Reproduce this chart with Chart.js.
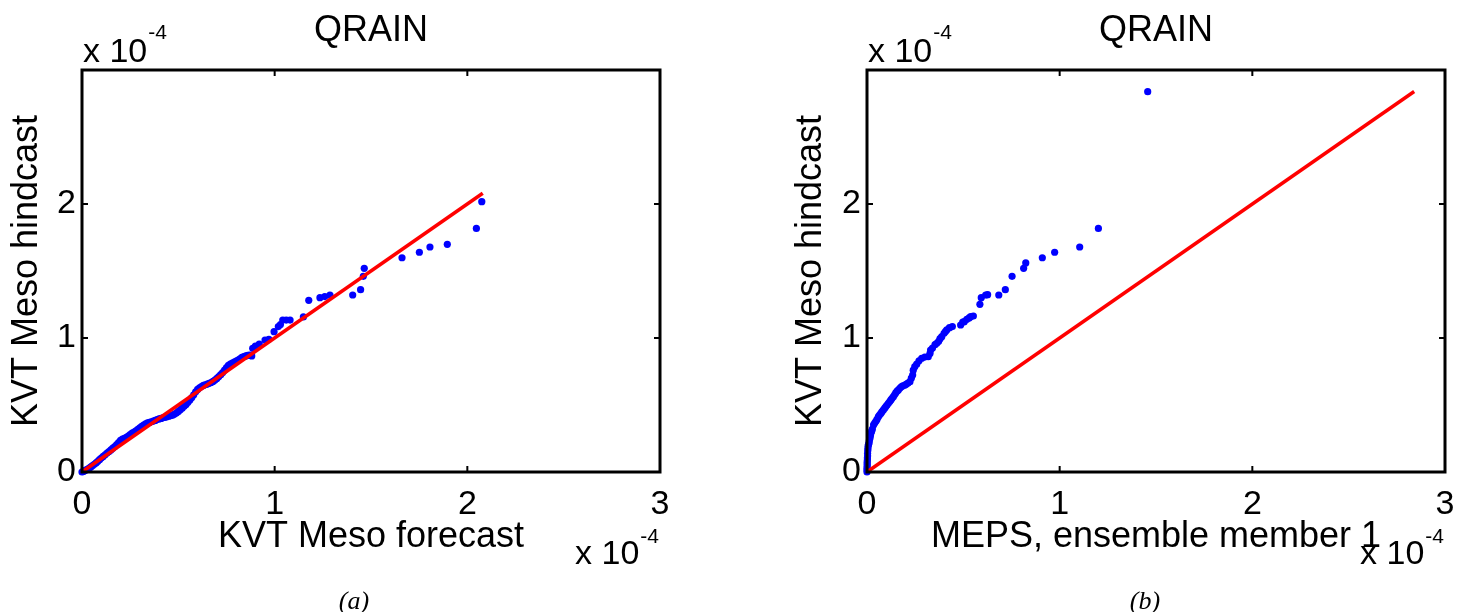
<!DOCTYPE html>
<html>
<head>
<meta charset="utf-8">
<title>QRAIN</title>
<script src="https://cdn.jsdelivr.net/npm/chart.js"></script>
<style>
  body { margin: 0; background: #fff; }
  #page { position: relative; width: 1469px; height: 612px; overflow: hidden; }
  canvas { position: absolute; top: 0; }
  .cap { position: absolute; top: 586px; line-height: 1; font: italic 26px "Liberation Serif", "Times New Roman", serif; transform: translateX(-50%); }
</style>
</head>
<body>
<div id="page">
  <canvas id="chartA" width="734" height="612" style="left:0px"></canvas>
  <canvas id="chartB" width="735" height="612" style="left:734px"></canvas>
  <div class="cap" style="left:354px">(a)</div>
  <div class="cap" style="left:1145px">(b)</div>
</div>
<script>
// quantiles, all in units of 1e-4
var tickVals = [0, 1, 2, 3];

var forecastA = [0.000, 0.005, 0.010, 0.016, 0.022, 0.030, 0.038, 0.046, 0.055, 0.064,
  0.073, 0.082, 0.091, 0.100,
  0.11, 0.12, 0.13, 0.14, 0.15, 0.16, 0.17, 0.18, 0.19, 0.20,
  0.21, 0.22, 0.23, 0.24, 0.25, 0.26, 0.27, 0.28, 0.29, 0.30,
  0.31, 0.32, 0.33, 0.34, 0.35, 0.36, 0.37, 0.38, 0.39, 0.40,
  0.41, 0.42, 0.43, 0.44, 0.45, 0.46, 0.47, 0.48, 0.49, 0.50,
  0.51, 0.52, 0.53, 0.54, 0.55, 0.56, 0.57, 0.58, 0.59, 0.60,
  0.61, 0.62, 0.63, 0.64, 0.65, 0.66, 0.67, 0.68, 0.69, 0.70,
  0.71, 0.72, 0.73, 0.74, 0.75, 0.76, 0.77, 0.78, 0.79, 0.80,
  0.81, 0.82, 0.83, 0.84, 0.85, 0.86, 0.87,
  0.881, 0.886, 0.900, 0.920, 0.950, 0.970, 0.997, 1.019, 1.030, 1.042,
  1.060, 1.080, 1.149, 1.177, 1.235, 1.260, 1.287, 1.405, 1.446, 1.460,
  1.465, 1.661, 1.751, 1.806, 1.896, 2.047, 2.075];
var hindcastA = [0.000, 0.003, 0.007, 0.011, 0.016, 0.022, 0.030, 0.038, 0.048, 0.058,
  0.068, 0.080, 0.092, 0.104,
  0.116, 0.128, 0.141, 0.153, 0.165, 0.178, 0.190, 0.205, 0.220, 0.236,
  0.246, 0.251, 0.258, 0.268, 0.279, 0.290, 0.298, 0.308, 0.318, 0.330,
  0.340, 0.350, 0.360, 0.366, 0.370, 0.375, 0.380, 0.385, 0.391, 0.396,
  0.400, 0.404, 0.408, 0.412, 0.416, 0.420, 0.424, 0.432, 0.440, 0.452,
  0.464, 0.476, 0.490, 0.504, 0.520, 0.538, 0.556, 0.576, 0.598, 0.616,
  0.628, 0.638, 0.646, 0.651, 0.656, 0.662, 0.668, 0.676, 0.686, 0.698,
  0.712, 0.726, 0.742, 0.760, 0.780, 0.796, 0.806, 0.813, 0.820, 0.828,
  0.836, 0.845, 0.855, 0.862, 0.866, 0.870, 0.872,
  0.866, 0.923, 0.940, 0.955, 0.985, 0.990, 1.047, 1.085, 1.100, 1.134,
  1.134, 1.134, 1.157, 1.281, 1.301, 1.309, 1.321, 1.321, 1.361, 1.460,
  1.520, 1.599, 1.640, 1.679, 1.699, 1.818, 2.017];
var refLineA = [0, 2.08];

var memberB = [0.000, 0.000, 0.000, 0.001, 0.001, 0.001, 0.002, 0.002, 0.003, 0.003,
  0.004, 0.005, 0.006, 0.008, 0.010, 0.012, 0.015, 0.018, 0.020, 0.024,
  0.028, 0.034, 0.040, 0.046, 0.052, 0.059, 0.065, 0.072, 0.078, 0.085,
  0.092, 0.098, 0.104, 0.111, 0.118, 0.124, 0.130, 0.137, 0.144, 0.150,
  0.157, 0.163, 0.170, 0.178, 0.186, 0.197, 0.205, 0.213, 0.223, 0.230,
  0.237, 0.240, 0.248, 0.258, 0.270, 0.284, 0.300, 0.318, 0.327, 0.330,
  0.340, 0.353, 0.362, 0.372, 0.379, 0.388, 0.400, 0.407, 0.414, 0.428,
  0.443, 0.486, 0.497, 0.505, 0.518, 0.530, 0.538, 0.552, 0.586, 0.593,
  0.616, 0.626, 0.684, 0.718, 0.753, 0.813, 0.824, 0.910, 0.974, 1.104,
  1.201, 1.457];
var hindcastB = [0.000, 0.015, 0.030, 0.045, 0.060, 0.075, 0.090, 0.105, 0.120, 0.140,
  0.160, 0.178, 0.195, 0.205, 0.214, 0.232, 0.250, 0.270, 0.289, 0.305,
  0.320, 0.351, 0.365, 0.378, 0.392, 0.413, 0.425, 0.437, 0.450, 0.463,
  0.476, 0.488, 0.500, 0.513, 0.526, 0.538, 0.550, 0.562, 0.578, 0.592,
  0.605, 0.612, 0.625, 0.636, 0.643, 0.649, 0.656, 0.664, 0.674, 0.700,
  0.724, 0.760, 0.786, 0.805, 0.830, 0.849, 0.858, 0.861, 0.885, 0.910,
  0.925, 0.950, 0.960, 0.975, 0.995, 1.010, 1.035, 1.048, 1.060, 1.077,
  1.085, 1.097, 1.119, 1.122, 1.139, 1.150, 1.159, 1.164, 1.251, 1.301,
  1.321, 1.323, 1.321, 1.361, 1.460, 1.520, 1.560, 1.599, 1.640, 1.679,
  1.818, 2.838];
var refLineB = [0, 2.84];

var EXP = 1e-4;
var FONT = '"Liberation Sans", Arial, sans-serif';
var LBL = 36;   // titles and axis labels
var TXT = 34;   // tick labels and multipliers
var SUP = 21;

function toPoints(xs, ys) {
  var pts = [];
  for (var i = 0; i < xs.length; i++) {
    pts.push({ x: xs[i] * EXP, y: ys[i] * EXP });
  }
  return pts;
}

// axes box with inward ticks on all sides, the title and the "x 10^-4" multipliers
var boxAxes = {
  id: 'boxAxes',
  afterDatasetsDraw: function (chart) {
    var ctx = chart.ctx, a = chart.chartArea;
    var sx = chart.scales.x, sy = chart.scales.y;
    ctx.save();
    ctx.strokeStyle = '#000';
    ctx.lineWidth = 2;
    ctx.beginPath();
    tickVals.forEach(function (t) {
      var px = sx.getPixelForValue(t * EXP);
      var py = sy.getPixelForValue(t * EXP);
      ctx.moveTo(px, a.bottom); ctx.lineTo(px, a.bottom - 6);
      ctx.moveTo(px, a.top); ctx.lineTo(px, a.top + 6);
      ctx.moveTo(a.left, py); ctx.lineTo(a.left + 6, py);
      ctx.moveTo(a.right, py); ctx.lineTo(a.right - 6, py);
    });
    ctx.stroke();
    ctx.lineWidth = 3;
    ctx.strokeRect(a.left, a.top, a.right - a.left, a.bottom - a.top);

    ctx.fillStyle = '#000';
    ctx.textBaseline = 'alphabetic';
    ctx.textAlign = 'center';
    ctx.font = LBL + 'px ' + FONT;
    ctx.fillText(chart.options.boxTitle, (a.left + a.right) / 2, a.top - 29);

    // top left, for the y axis
    ctx.textAlign = 'left';
    ctx.font = TXT + 'px ' + FONT;
    var w = ctx.measureText('x 10').width;
    ctx.fillText('x 10', a.left + 1, a.top - 8);
    ctx.font = SUP + 'px ' + FONT;
    ctx.fillText('-4', a.left + 2 + w, a.top - 31);
    // bottom right, for the x axis
    var we = ctx.measureText('-4').width;
    ctx.fillText('-4', a.right - we - 1, a.bottom + 71);
    ctx.textAlign = 'right';
    ctx.font = TXT + 'px ' + FONT;
    ctx.fillText('x 10', a.right - we - 2, a.bottom + 92);
    ctx.restore();
  }
};

function makeChart(id, plotLeft, plotRight, yTitlePad, xTitle, xs, ys, refLine) {
  var canvas = document.getElementById(id);
  var tickFont = { family: FONT, size: TXT };
  var lblFont = { family: FONT, size: LBL };
  return new Chart(canvas.getContext('2d'), {
    type: 'scatter',
    data: {
      datasets: [{
        data: toPoints(refLine, refLine),
        showLine: true,
        borderColor: '#ff0000',
        borderWidth: 3.5,
        pointRadius: 0
      }, {
        data: toPoints(xs, ys),
        backgroundColor: '#0000ff',
        borderWidth: 0,
        pointRadius: 3.6,
        clip: false
      }]
    },
    options: {
      boxTitle: 'QRAIN',
      responsive: false,
      animation: false,
      devicePixelRatio: 1,
      events: [],
      layout: { autoPadding: false, padding: { left: 0, right: canvas.width - plotRight, top: 70, bottom: 0 } },
      plugins: {
        legend: { display: false },
        tooltip: { enabled: false }
      },
      scales: {
        x: {
          type: 'linear', min: 0, max: 3 * EXP,
          afterBuildTicks: function (s) { s.ticks = tickVals.map(function (t) { return { value: t * EXP }; }); },
          afterFit: function (s) { s.height = 612 - 472; },
          grid: { display: false, drawTicks: false },
          border: { display: false },
          ticks: {
            color: '#000', font: tickFont, padding: 12, maxRotation: 0, autoSkip: false,
            callback: function (v) { return String(Math.round(v / EXP)); }
          },
          title: { display: true, text: xTitle, color: '#000', font: lblFont, padding: { top: 0, bottom: 53 } }
        },
        y: {
          type: 'linear', min: 0, max: 3 * EXP,
          afterBuildTicks: function (s) { s.ticks = tickVals.map(function (t) { return { value: t * EXP }; }); },
          afterFit: function (s) { s.width = plotLeft; },
          grid: { display: false, drawTicks: false },
          border: { display: false },
          ticks: {
            color: '#000', font: tickFont, padding: 6, autoSkip: false,
            callback: function (v) { var r = Math.round(v / EXP); return r === 3 ? '' : String(r); }
          },
          title: { display: true, text: 'KVT Meso hindcast', color: '#000', font: lblFont, padding: { top: yTitlePad, bottom: 0 } }
        }
      }
    },
    plugins: [boxAxes]
  });
}

makeChart('chartA', 82, 660, 5, 'KVT Meso forecast', forecastA, hindcastA, refLineA);
makeChart('chartB', 133, 711, 55, 'MEPS, ensemble member 1', memberB, hindcastB, refLineB);
</script>
</body>
</html>
